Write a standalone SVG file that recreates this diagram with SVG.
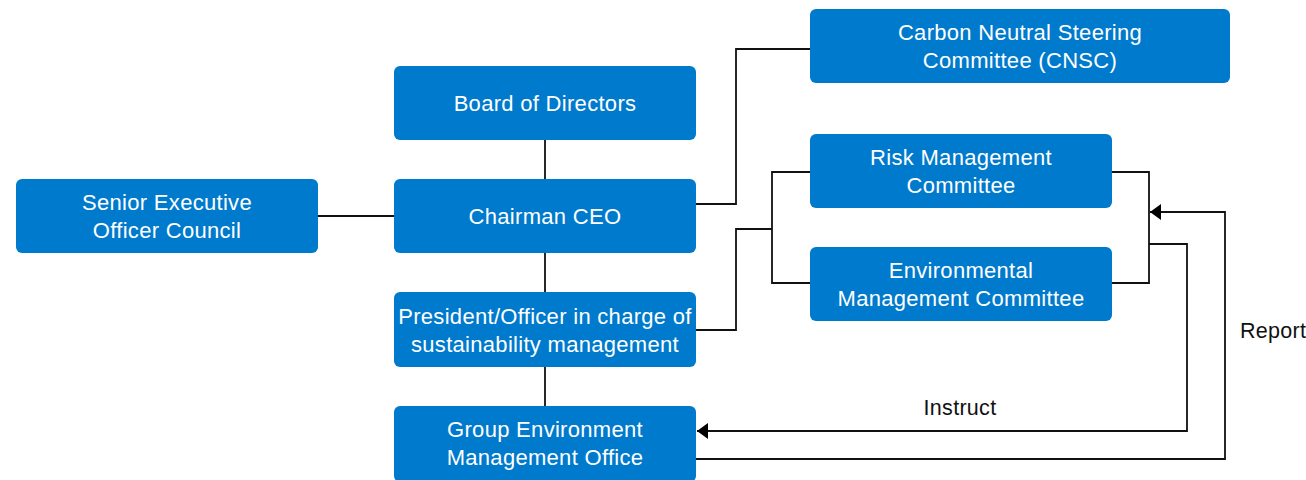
<svg xmlns="http://www.w3.org/2000/svg" width="1306" height="480" viewBox="0 0 1306 480">
  <style>
    .box { fill: #007ACC; }
    .lbl { fill: #ffffff; font-family: "Liberation Sans", Arial, Helvetica, sans-serif; font-size: 22px; letter-spacing: 0.3px; text-anchor: middle; }
    .cap { fill: #111111; font-family: "Liberation Sans", Arial, Helvetica, sans-serif; font-size: 21.5px; letter-spacing: 0.3px; }
    .wire { fill: none; stroke: #111111; stroke-width: 1.8; }
  </style>
  <defs>
    <marker id="arrow" viewBox="0 0 11 16" refX="11" refY="8" markerWidth="11" markerHeight="16" markerUnits="userSpaceOnUse" orient="auto">
      <path d="M0,0 L11,8 L0,16 z" fill="#000000"/>
    </marker>
  </defs>
  <rect width="1306" height="480" fill="#ffffff"/>

  <!-- connectors -->
  <g id="connectors">
    <path class="wire" d="M545,140 V179"/>
    <path class="wire" d="M318,216 H394"/>
    <path class="wire" d="M545,253 V292"/>
    <path class="wire" d="M545,367 V406"/>
    <path class="wire" d="M696,204 H736 V49 H810"/>
    <path class="wire" d="M696,330 H736 V229 H772"/>
    <path class="wire" d="M810,172 H772 V283 H810"/>
    <path class="wire" d="M1112,172 H1149 V283 H1112"/>
    <path class="wire" d="M1149,244 H1187 V431 H697" marker-end="url(#arrow)"/>
    <path class="wire" d="M696,459 H1225 V212 H1150" marker-end="url(#arrow)"/>
    <text class="cap" x="960" y="415" text-anchor="middle">Instruct</text>
    <text class="cap" x="1240" y="338">Report</text>
  </g>

  <g id="board">
    <rect class="box" x="394" y="66" width="302" height="74" rx="6"/>
    <text class="lbl" x="545" y="111">Board of Directors</text>
  </g>
  <g id="chairman">
    <rect class="box" x="394" y="179" width="302" height="74" rx="6"/>
    <text class="lbl" x="545" y="224">Chairman CEO</text>
  </g>
  <g id="senior-council">
    <rect class="box" x="16" y="179" width="302" height="74" rx="6"/>
    <text class="lbl" x="167" y="210">Senior Executive</text>
    <text class="lbl" x="167" y="238">Officer Council</text>
  </g>
  <g id="president">
    <rect class="box" x="394" y="292" width="302" height="75" rx="6"/>
    <text class="lbl" x="545" y="324">President/Officer in charge of</text>
    <text class="lbl" x="545" y="352">sustainability management</text>
  </g>
  <g id="group-env-office">
    <rect class="box" x="394" y="406" width="302" height="76" rx="6"/>
    <text class="lbl" x="545" y="437">Group Environment</text>
    <text class="lbl" x="545" y="465">Management Office</text>
  </g>
  <g id="cnsc">
    <rect class="box" x="810" y="9" width="420" height="74" rx="6"/>
    <text class="lbl" x="1020" y="40">Carbon Neutral Steering</text>
    <text class="lbl" x="1020" y="68">Committee (CNSC)</text>
  </g>
  <g id="risk-committee">
    <rect class="box" x="810" y="134" width="302" height="74" rx="6"/>
    <text class="lbl" x="961" y="165">Risk Management</text>
    <text class="lbl" x="961" y="193">Committee</text>
  </g>
  <g id="env-committee">
    <rect class="box" x="810" y="247" width="302" height="74" rx="6"/>
    <text class="lbl" x="961" y="278">Environmental</text>
    <text class="lbl" x="961" y="306">Management Committee</text>
  </g>
</svg>
